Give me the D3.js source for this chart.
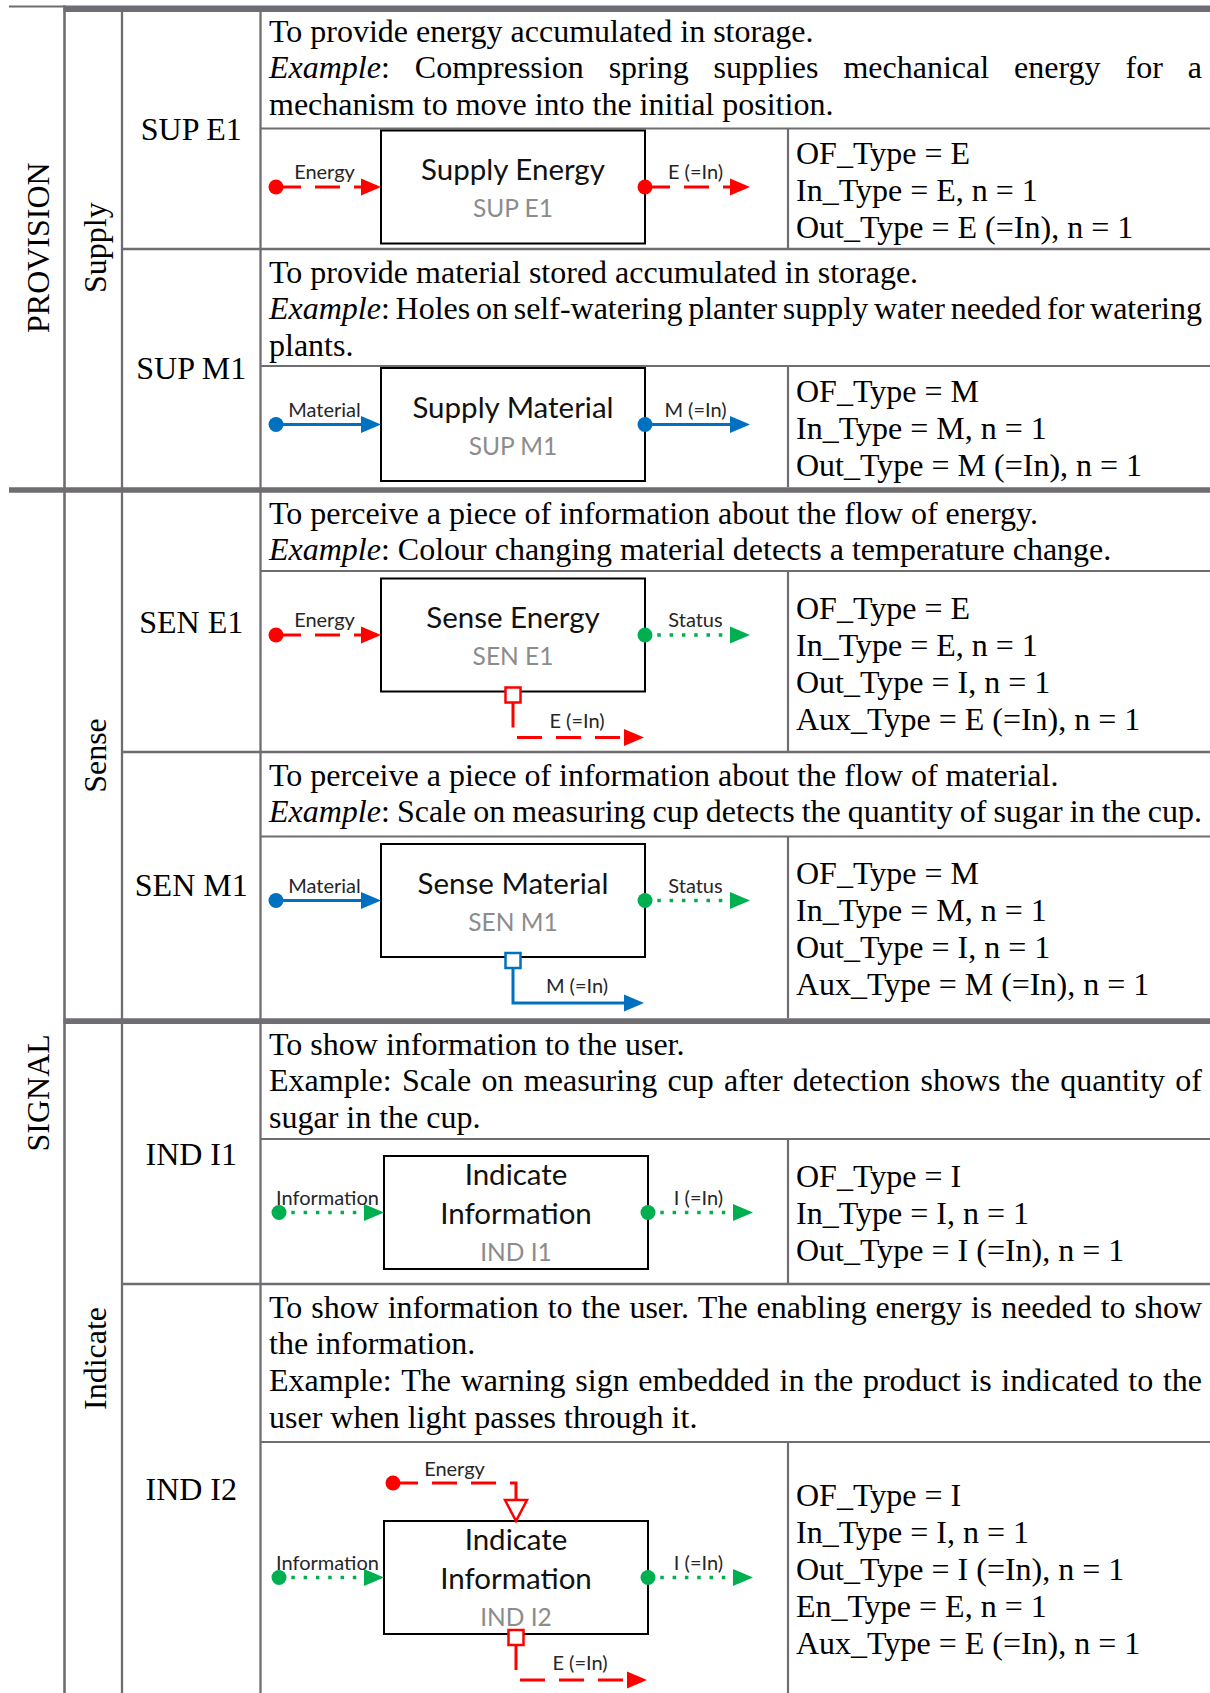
<!DOCTYPE html>
<html><head><meta charset="utf-8">
<script src="https://cdn.jsdelivr.net/npm/d3@7"></script>
<style>body{margin:0;background:#fff}svg{display:block}</style>
</head><body>
<script>
// ---------------- DATA ----------------
const codes = ["SUP E1","SUP M1","SEN E1","SEN M1","IND I1","IND I2"];
const groupOf = ["PROVISION","PROVISION","SIGNAL","SIGNAL","SIGNAL","SIGNAL"];
const subgroupOf = ["Supply","Supply","Sense","Sense","Indicate","Indicate"];
const titles = [["Supply Energy"],["Supply Material"],["Sense Energy"],["Sense Material"],["Indicate","Information"],["Indicate","Information"]];
const inTypes = ["E","M","E","M","I","I"];
const inLabels = ["Energy","Material","Energy","Material","Information","Information"];
const outTypes = ["E","M","I","I","I","I"];
const outLabels = ["E (=In)","M (=In)","Status","Status","I (=In)","I (=In)"];
const auxTypes = [null,null,"E","M",null,"E"];
const auxLabels = [null,null,"E (=In)","M (=In)",null,"E (=In)"];
const enTypes = [null,null,null,null,null,"E"];
const enLabels = [null,null,null,null,null,"Energy"];
const descriptions = [
  [["To provide energy accumulated in storage."],["Example: Compression spring supplies mechanical energy for a","mechanism to move into the initial position."]],
  [["To provide material stored accumulated in storage."],["Example: Holes on self-watering planter supply water needed for watering","plants."]],
  [["To perceive a piece of information about the flow of energy."],["Example: Colour changing material detects a temperature change."]],
  [["To perceive a piece of information about the flow of material."],["Example: Scale on measuring cup detects the quantity of sugar in the cup."]],
  [["To show information to the user."],["Example: Scale on measuring cup after detection shows the quantity of","sugar in the cup."]],
  [["To show information to the user. The enabling energy is needed to show","the information."],["Example: The warning sign embedded in the product is indicated to the","user when light passes through it."]]
];
const attributes = [
  ["OF_Type = E","In_Type = E, n = 1","Out_Type = E (=In), n = 1"],
  ["OF_Type = M","In_Type = M, n = 1","Out_Type = M (=In), n = 1"],
  ["OF_Type = E","In_Type = E, n = 1","Out_Type = I, n = 1","Aux_Type = E (=In), n = 1"],
  ["OF_Type = M","In_Type = M, n = 1","Out_Type = I, n = 1","Aux_Type = M (=In), n = 1"],
  ["OF_Type = I","In_Type = I, n = 1","Out_Type = I (=In), n = 1"],
  ["OF_Type = I","In_Type = I, n = 1","Out_Type = I (=In), n = 1","En_Type = E, n = 1","Aux_Type = E (=In), n = 1"]
];

// ---------------- LAYOUT / STYLE ----------------
const W = 1210, H = 1693;
const SERIF = "'Liberation Serif','Times New Roman',serif";
const SANS = "Lato,'Noto Sans',sans-serif";
const SERIF_SIZE = 32;
const gridColor = "#6f6d72";
const italicExample = [true,true,true,true,false,false];
const rowBands = [[8,249],[249,487.3],[492.7,752],[752,1018.3],[1024,1284],[1284,1693]];
const textTops = [8,249,490,752,1021,1284];
const splitYs = [128.5,366,571,836.5,1139,1442];
const boxTops = [130.5,368,578.5,844,1156,1521];
const boxLefts = [381,381,381,381,384,384];
const BOX_W = 264, BOX_H = 113;
const yRow = d3.scaleOrdinal().domain(codes).range(rowBands);
const ySplit = d3.scaleOrdinal().domain(codes).range(splitYs);
const xCol = d3.scaleOrdinal().domain(["group","subgroup","code","text","attr","end"]).range([9,64.5,122,260.5,788,1210]);
const flowStyle = {
  E:{color:"#ff0000",dash:"25,14",w:3},
  M:{color:"#0070c0",dash:null,w:3},
  I:{color:"#00b050",dash:"3.5,8.8",w:3.5}
};

const svg = d3.select("body").append("svg").attr("width",W).attr("height",H);
const grid = svg.append("g");

// ---------------- GRID ----------------
function hline(y,x0,x1,w){grid.append("line").attr("x1",x0).attr("x2",x1).attr("y1",y).attr("y2",y).attr("stroke",gridColor).attr("stroke-width",w);}
function vline(x,y0,y1,w){grid.append("line").attr("x1",x).attr("x2",x).attr("y1",y0).attr("y2",y1).attr("stroke",gridColor).attr("stroke-width",w);}
grid.append("rect").attr("x",xCol("group")).attr("y",5.5).attr("width",xCol("subgroup")-xCol("group")).attr("height",2).attr("fill",gridColor);
grid.append("rect").attr("x",xCol("subgroup")-1).attr("y",5.5).attr("width",W).attr("height",6.5).attr("fill",gridColor);
vline(xCol("subgroup"),5.5,H,2.6);
vline(xCol("code"),12,H,2.3);
vline(xCol("text"),12,H,2.3);
codes.forEach((c,i)=>{
  const [t,b]=yRow(c);
  hline(ySplit(c),xCol("text"),W,2.2);
  vline(xCol("attr"),ySplit(c),b,2.2);
});
hline(249,xCol("code"),W,2.3);
hline(752,xCol("code"),W,2.3);
hline(1284,xCol("code"),W,2.3);
hline(490,xCol("group"),W,5.4);
hline(1021.2,xCol("subgroup")-1,W,5.7);

// ---------------- LEFT LABELS ----------------
const lab = svg.append("g").attr("font-family",SERIF).attr("font-size",SERIF_SIZE).attr("fill","#000");
function spanLabels(keys, x){
  const g = d3.groups(codes.map((c,i)=>({c,k:keys[i]})), d=>d.k);
  g.forEach(([k,rows])=>{
    const y0 = d3.min(rows,r=>yRow(r.c)[0]), y1 = d3.max(rows,r=>yRow(r.c)[1]);
    const cy=(y0+y1)/2;
    lab.append("text").attr("transform",`translate(${x},${cy}) rotate(-90)`)
      .attr("text-anchor","middle").attr("dominant-baseline","central").text(k);
  });
}
spanLabels(groupOf,(xCol("group")+xCol("subgroup"))/2+1);
spanLabels(subgroupOf,(xCol("subgroup")+xCol("code"))/2+1.5);
codes.forEach(c=>{
  const [t,b]=yRow(c);
  lab.append("text").attr("x",(xCol("code")+xCol("text"))/2).attr("y",(t+b)/2)
    .attr("text-anchor","middle").attr("dominant-baseline","central").text(c);
});

// ---------------- DESCRIPTIONS ----------------
const txt = svg.append("g").attr("font-family",SERIF).attr("font-size",SERIF_SIZE).attr("fill","#000");
const TX0 = 269, TX1 = 1202, LH = 36.9;
const spaceW = (()=>{const t=txt.append("text").text("a a");const a=t.node().getComputedTextLength();t.text("aa");const b=t.node().getComputedTextLength();t.remove();return a-b;})();
function drawLine(str,y,justify,ital){
  const words=str.split(" ");
  const nodes=words.map(w=>{
    const t=txt.append("text").attr("y",y);
    if(ital && w==="Example:"){t.append("tspan").attr("font-style","italic").text("Example");t.append("tspan").text(":");}
    else t.text(w);
    return t;
  });
  const widths=nodes.map(n=>n.node().getComputedTextLength());
  const total=d3.sum(widths);
  const avail=TX1-TX0;
  let gap=spaceW;
  if(words.length>1 && (justify || total+spaceW*(words.length-1)>avail)) gap=(avail-total)/(words.length-1);
  let x=TX0;
  nodes.forEach((n,i)=>{n.attr("x",x);x+=widths[i]+gap;});
}
codes.forEach((c,i)=>{
  let y = textTops[i]+33.5;
  descriptions[i].forEach(par=>{
    par.forEach((line,j)=>{ drawLine(line,y,j<par.length-1,italicExample[i]); y+=LH; });
  });
  const s=ySplit(c), b=yRow(c)[1], mid=(s+b)/2, n=attributes[i].length;
  attributes[i].forEach((a,j)=>{
    txt.append("text").attr("x",796).attr("y",mid+(j-(n-1)/2)*37+12.5).text(a);
  });
});

// ---------------- DIAGRAMS ----------------
const dg = svg.append("g");
function arrowHead(tip,dir,color,hollow){
  const L=20,HW=8.5;let p;
  if(dir==="right") p=[[tip[0],tip[1]],[tip[0]-L,tip[1]-HW],[tip[0]-L,tip[1]+HW]];
  else p=[[tip[0],tip[1]],[tip[0]-11,tip[1]-21],[tip[0]+11,tip[1]-21]];
  dg.append("path").attr("d",d3.line()(p)+"Z")
    .attr("fill",hollow?"#fff":color).attr("stroke",hollow?color:"none").attr("stroke-width",2.5);
}
function flow(pts,type,dot){
  const st=flowStyle[type];
  const p=dg.append("path").attr("d",d3.line()(pts)).attr("fill","none").attr("stroke",st.color).attr("stroke-width",st.w);
  if(st.dash) p.attr("stroke-dasharray",st.dash);
  if(dot) dg.append("circle").attr("cx",pts[0][0]).attr("cy",pts[0][1]).attr("r",7.5).attr("fill",st.color);
}
function label(x,y,t,size,color){
  dg.append("text").attr("x",x).attr("y",y).attr("text-anchor","middle").attr("dominant-baseline","central")
    .attr("font-family",SANS).attr("font-size",size).attr("fill",color).text(t);
}
codes.forEach((c,i)=>{
  const x0=boxLefts[i], x1=x0+BOX_W, top=boxTops[i], bot=top+BOX_H, cx=(x0+x1)/2, fy=top+BOX_H/2;
  dg.append("rect").attr("x",x0).attr("y",top).attr("width",BOX_W).attr("height",BOX_H)
    .attr("fill","#fff").attr("stroke","#000").attr("stroke-width",2);
  if(titles[i].length===1){
    label(cx,top+38,titles[i][0],29.5,"#111");
    label(cx,top+77,c,24.5,"#8c8c8c");
  } else {
    label(cx,top+17,titles[i][0],29.5,"#111");
    label(cx,top+56,titles[i][1],29.5,"#111");
    label(cx,top+95,c,24.5,"#8c8c8c");
  }
  const inX0=x0-105;
  flow([[inX0,fy],[x0-18,fy]],inTypes[i],true);
  arrowHead([x0,fy],"right",flowStyle[inTypes[i]].color,false);
  label((inX0+x0)/2-4,fy-16,inLabels[i],20,"#262626");
  const outTip=x1+105;
  flow([[x1,fy],[outTip-18,fy]],outTypes[i],true);
  arrowHead([outTip,fy],"right",flowStyle[outTypes[i]].color,false);
  label((x1+outTip)/2-2,fy-16,outLabels[i],20,"#262626");
  if(auxTypes[i]){
    const st=flowStyle[auxTypes[i]], tip=x1-1;
    flow([[cx,bot+11],[cx,bot+46],[tip-18,bot+46]],auxTypes[i],false);
    arrowHead([tip,bot+46],"right",st.color,false);
    dg.append("rect").attr("x",cx-7.5).attr("y",bot-4).attr("width",15).attr("height",15)
      .attr("fill","#fff").attr("stroke",st.color).attr("stroke-width",2.5);
    label(cx+64,bot+28,auxLabels[i],20,"#262626");
  }
  if(enTypes[i]){
    const st=flowStyle[enTypes[i]];
    flow([[x0+9,top-38],[cx,top-38],[cx,top-21]],enTypes[i],true);
    arrowHead([cx,top],"down",st.color,true);
    label(x0+70.5,top-53,enLabels[i],20,"#262626");
  }
});
</script>
</body></html>
